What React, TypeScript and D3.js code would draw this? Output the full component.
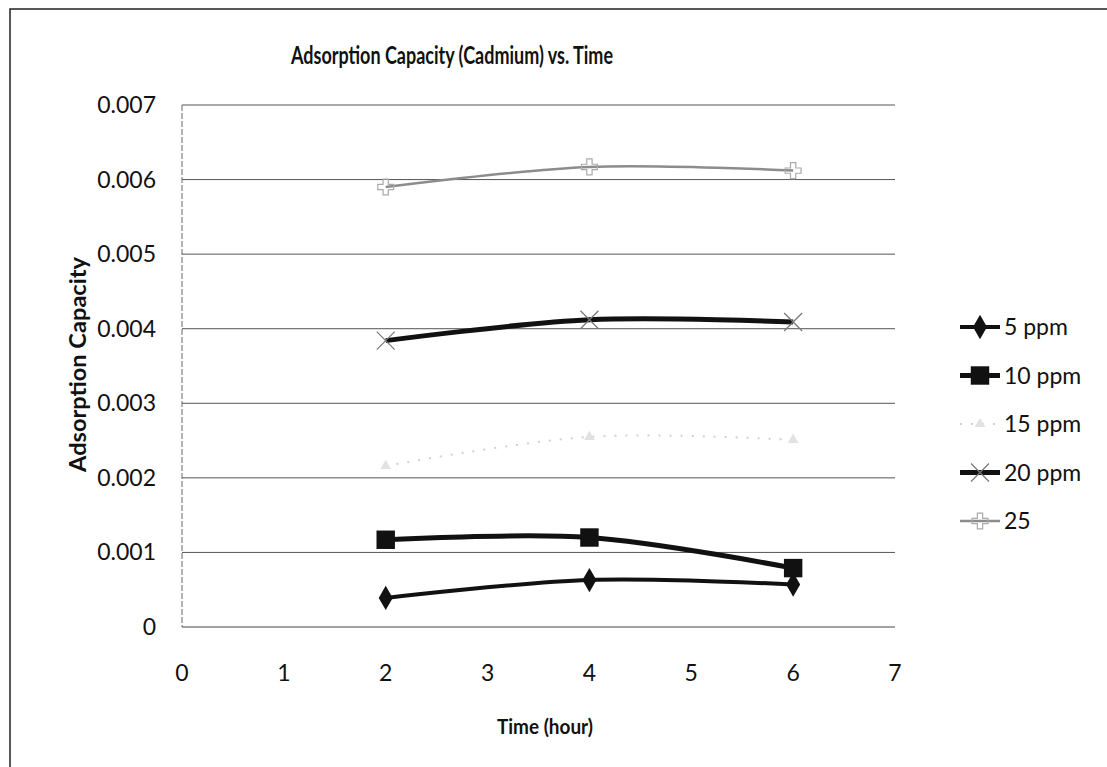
import React, { useEffect, useRef } from 'react';
import * as d3 from 'd3';

const times = [2, 4, 6];
const ppm5 = [0.00039, 0.00063, 0.00057];
const ppm10 = [0.00117, 0.0012, 0.00079];
const ppm15 = [0.00216, 0.00255, 0.00251];
const ppm20 = [0.00384, 0.00412, 0.00409];
const ppm25 = [0.0059, 0.00617, 0.00612];
const seriesNames = ['5 ppm', '10 ppm', '15 ppm', '20 ppm', '25'];
const xTicks = [0, 1, 2, 3, 4, 5, 6, 7];
const yTicks = [0, 0.001, 0.002, 0.003, 0.004, 0.005, 0.006, 0.007];

const FONT = 'Lato, "Open Sans", sans-serif';

export default function App() {
  const svgRef = useRef<SVGSVGElement | null>(null);

  useEffect(() => {
    if (!svgRef.current) return;
    d3.select(svgRef.current).selectAll('*').remove();

    const width = 1107;
    const height = 767;
    const svg = d3.select(svgRef.current).attr('width', width).attr('height', height);

    svg.append('rect').attr('width', width).attr('height', height).attr('fill', '#fff');

    // outer chart border (only left and top show in the scan)
    svg.append('path')
      .attr('d', `M10,${height} L10,9 L${width},9`)
      .attr('fill', 'none')
      .attr('stroke', '#222')
      .attr('stroke-width', 1.5);

    const x = d3.scaleLinear().domain([0, 7]).range([182, 895]);
    const y = d3.scaleLinear().domain([0, 0.007]).range([627, 105]);

    // gridlines
    svg.append('g')
      .selectAll('line')
      .data(yTicks.slice(1))
      .join('line')
      .attr('x1', x(0))
      .attr('x2', x(7))
      .attr('y1', d => y(d))
      .attr('y2', d => y(d))
      .attr('stroke', '#555')
      .attr('stroke-width', 1);

    // axes lines
    svg.append('line')
      .attr('x1', x(0)).attr('x2', x(0))
      .attr('y1', y(0.007)).attr('y2', y(0))
      .attr('stroke', '#666').attr('stroke-width', 1)
      .attr('stroke-dasharray', '6,2');
    svg.append('line')
      .attr('x1', x(0)).attr('x2', x(7))
      .attr('y1', y(0)).attr('y2', y(0))
      .attr('stroke', '#444').attr('stroke-width', 1);

    // tick labels
    svg.append('g')
      .selectAll('text')
      .data(yTicks)
      .join('text')
      .attr('x', 156)
      .attr('y', d => y(d))
      .attr('dy', '0.35em')
      .attr('text-anchor', 'end')
      .attr('font-family', FONT)
      .attr('font-size', 23)
      .attr('fill', '#111')
      .text(d => (d === 0 ? '0' : d3.format('.3f')(d)));

    svg.append('g')
      .selectAll('text')
      .data(xTicks)
      .join('text')
      .attr('x', d => x(d))
      .attr('y', 681)
      .attr('text-anchor', 'middle')
      .attr('font-family', FONT)
      .attr('font-size', 23)
      .attr('fill', '#111')
      .text(d => String(d));

    // titles
    svg.append('text')
      .attr('x', 291).attr('y', 64)
      .attr('textLength', 322)
      .attr('lengthAdjust', 'spacingAndGlyphs')
      .attr('font-family', FONT).attr('font-weight', 'bold')
      .attr('font-size', 24).attr('fill', '#111')
      .text('Adsorption Capacity (Cadmium) vs. Time');

    svg.append('text')
      .attr('transform', `translate(86,472) rotate(-90)`)
      .attr('textLength', 215)
      .attr('lengthAdjust', 'spacingAndGlyphs')
      .attr('font-family', FONT).attr('font-weight', 'bold')
      .attr('font-size', 22).attr('fill', '#111')
      .text('Adsorption Capacity');

    svg.append('text')
      .attr('x', 497).attr('y', 734)
      .attr('textLength', 96)
      .attr('lengthAdjust', 'spacingAndGlyphs')
      .attr('font-family', FONT).attr('font-weight', 'bold')
      .attr('font-size', 21).attr('fill', '#111')
      .text('Time (hour)');

    const styles = [
      { values: ppm5, color: '#111', width: 4, dash: null, marker: 'diamond', msize: 170, mcolor: '#111' },
      { values: ppm10, color: '#111', width: 5, dash: null, marker: 'square', msize: 340, mcolor: '#111' },
      { values: ppm15, color: '#d0d0d0', width: 2, dash: '2,9', marker: 'triangle', msize: 50, mcolor: '#e2e2e2' },
      { values: ppm20, color: '#111', width: 5, dash: null, marker: 'x', msize: 260, mcolor: '#777' },
      { values: ppm25, color: '#8c8c8c', width: 2.5, dash: null, marker: 'plus', msize: 140, mcolor: '#aaa' },
    ];

    const symbolFor = (m: string) => {
      if (m === 'diamond') return d3.symbolDiamond;
      if (m === 'square') return d3.symbolSquare;
      if (m === 'triangle') return d3.symbolTriangle;
      return d3.symbolCross;
    };

    const line = d3.line<number>()
      .x((_, i) => x(times[i]))
      .y(d => y(d))
      .curve(d3.curveCatmullRom.alpha(0.5));

    const drawMarker = (g: any, s: any, cx: number, cy: number) => {
      if (s.marker === 'x') {
        const r = 9;
        g.append('path')
          .attr('d', `M${cx - r},${cy - r}L${cx + r},${cy + r}M${cx - r},${cy + r}L${cx + r},${cy - r}`)
          .attr('stroke', s.mcolor).attr('stroke-width', 1.2);
        return;
      }
      const el = g.append('path')
        .attr('d', d3.symbol().type(symbolFor(s.marker)).size(s.msize)())
        .attr('transform', `translate(${cx},${cy})`);
      if (s.marker === 'plus') {
        el.attr('fill', 'none').attr('stroke', s.mcolor).attr('stroke-width', 1.2);
      } else {
        el.attr('fill', s.mcolor);
      }
    };

    styles.forEach(s => {
      const g = svg.append('g');
      g.append('path')
        .datum(s.values)
        .attr('d', line)
        .attr('fill', 'none')
        .attr('stroke', s.color)
        .attr('stroke-width', s.width)
        .attr('stroke-dasharray', s.dash);
      s.values.forEach((v, i) => drawMarker(g, s, x(times[i]), y(v)));
    });

    // legend
    const legendY = d3.scalePoint<string>().domain(seriesNames).range([327, 521]);
    seriesNames.forEach((name, i) => {
      const s = styles[i];
      const ly = legendY(name) as number;
      const g = svg.append('g');
      g.append('line')
        .attr('x1', 960).attr('x2', 1000)
        .attr('y1', ly).attr('y2', ly)
        .attr('stroke', s.color)
        .attr('stroke-width', s.width)
        .attr('stroke-dasharray', s.dash);
      drawMarker(g, s, 980, ly);
      g.append('text')
        .attr('x', 1004).attr('y', ly)
        .attr('dy', '0.35em')
        .attr('font-family', FONT)
        .attr('font-size', 23)
        .attr('fill', '#111')
        .text(name);
    });
  }, []);

  return (
    <div style={{ position: 'absolute', left: 0, top: 0 }}>
      <svg ref={svgRef}></svg>
    </div>
  );
}
